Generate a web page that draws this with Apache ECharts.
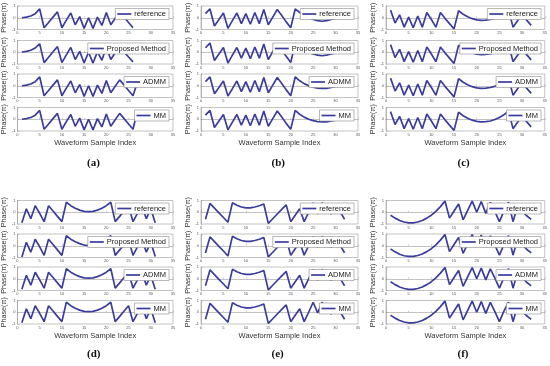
<!DOCTYPE html>
<html><head><meta charset="utf-8">
<script src="https://cdn.jsdelivr.net/npm/echarts@6/dist/echarts.min.js"></script>
<style>html,body{margin:0;padding:0;background:#fff}#c{width:550px;height:366px}</style>
</head><body><div id="c"></div>
<script>
// ---------- texts ----------
const methodNames = ['reference', 'Proposed Method', 'ADMM', 'MM'];
const panelLabels = ['(a)', '(b)', '(c)', '(d)', '(e)', '(f)'];
const xAxisTitle = 'Waveform Sample Index';
const yAxisTitle = 'Phase(\u03c0)';
const xTickMin = 0, xTickMax = 35, xTickStep = 5;
const yTickMin = -1, yTickMax = 1, yTickStep = 1;

// ---------- data (phase in units of pi, sample index starts at 1) ----------
const aRef  = [0.0, 0.05, 0.15, 0.35, 0.75, -0.85, -0.4, 0.05, 0.5, -0.85, -0.2, 0.4, -0.6, 0.1, -0.9, 0.0, -0.9, 0.05, -0.65, 0.45, -0.6, -0.05, 0.5, 0.05, -0.4, -0.85];
const aProp = [0.02, 0.07, 0.17, 0.37, 0.72, -0.88, -0.42, 0.04, 0.48, -0.88, -0.22, 0.4, -0.62, 0.08, -0.9, 0.0, -0.92, 0.03, -0.68, 0.45, -0.62, -0.05, 0.48, 0.03, -0.4, -0.82];
const aADMM = [0.0, 0.05, 0.15, 0.35, 0.75, -0.85, -0.4, 0.05, 0.5, -0.85, -0.2, 0.4, -0.6, 0.1, -0.9, 0.0, -0.9, 0.05, -0.65, 0.45, -0.6, -0.05, 0.5, 0.05, -0.4, -0.85, 0.3];
const aMM   = [0.0, 0.05, 0.15, 0.35, 0.75, -0.85, -0.4, 0.05, 0.5, -0.85, -0.2, 0.4, -0.6, 0.1, -0.9, 0.0, -0.9, 0.05, -0.65, 0.45, -0.6, -0.05, 0.5, 0.05, -0.4, -0.85, 0.75];

const bRef  = [0.35, 0.75, -0.7, -0.15, 0.4, -0.9, -0.25, 0.4, -0.5, 0.35, -0.55, 0.45, -0.5, 0.7, -0.6, 0.05, 0.7, 0.2, -0.35, -0.85, 0.75, 0.45, 0.2, 0.0, -0.15, -0.25, -0.3, -0.25, -0.15, -0.05];
const bProp = [0.38, 0.78, -0.7, -0.15, 0.4, -0.92, -0.25, 0.4, -0.5, 0.35, -0.55, 0.45, -0.5, 0.7, -0.62, 0.05, 0.7, 0.2, -0.35, -0.88, 0.75, 0.45, 0.2, 0.0, -0.15, -0.25, -0.3, -0.25, -0.15, -0.05];
const bADMM = [0.35, 0.75, -0.68, -0.15, 0.4, -0.88, -0.25, 0.4, -0.5, 0.35, -0.55, 0.45, -0.5, 0.7, -0.6, 0.05, 0.7, 0.2, -0.35, -0.85, 0.75, 0.42, 0.18, 0.0, -0.12, -0.2, -0.23, -0.22, -0.15, -0.08];
const bMM   = [0.35, 0.75, -0.7, -0.15, 0.4, -0.9, -0.25, 0.4, -0.5, 0.35, -0.55, 0.45, -0.5, 0.7, -0.6, 0.05, 0.7, 0.2, -0.35, -0.85, 0.75, 0.42, 0.18, 0.0, -0.12, -0.2, -0.23, -0.22, -0.15, -0.08];

const cRef  = [0.65, -0.45, 0.25, -0.8, 0.05, -0.85, 0.15, -0.8, 0.45, -0.15, -0.8, 0.45, -0.05, -0.5, -0.95, 0.6, 0.3, 0.08, -0.08, -0.18, -0.22, -0.2, -0.15, -0.05, 0.1, 0.35, 0.7, -0.8, -0.25, 0.25, -0.2, -0.65];
const cProp = [0.65, -0.45, 0.25, -0.8, 0.05, -0.85, 0.15, -0.8, 0.45, -0.15, -0.8, 0.45, -0.05, -0.5, -0.95, 0.6, 0.32, 0.1, -0.06, -0.16, -0.2, -0.18, -0.13, -0.03, 0.12, 0.35, 0.7, -0.8, -0.25, 0.25, -0.2, -0.65];
const cADMM = [0.65, -0.45, 0.25, -0.8, 0.05, -0.85, 0.15, -0.8, 0.45, -0.15, -0.8, 0.45, -0.05, -0.5, -0.95, 0.6, 0.3, 0.08, -0.08, -0.18, -0.22, -0.2, -0.15, -0.05, 0.1, 0.35, 0.7, -0.8, -0.25, 0.25, -0.2, -0.65];
const cMM   = [0.65, -0.45, 0.25, -0.8, 0.05, -0.85, 0.15, -0.8, 0.45, -0.15, -0.8, 0.45, -0.05, -0.5, -0.95, 0.6, 0.3, 0.08, -0.08, -0.18, -0.22, -0.2, -0.15, -0.02, 0.15, 0.38, 0.72, -0.8, -0.25, 0.25, -0.2, -0.65];

const dRef  = [-0.9, 0.3, -0.55, 0.55, -0.1, -0.8, 0.55, 0.1, -0.35, -0.8, 0.85, 0.56, 0.34, 0.18, 0.08, 0.05, 0.08, 0.18, 0.34, 0.56, 0.85, -0.8, -0.35, 0.1, 0.55, -0.8, -0.1, 0.55, -0.55, 0.3, -0.9];
const dProp = [-0.95, 0.3, -0.55, 0.55, -0.1, -0.82, 0.55, 0.1, -0.35, -0.82, 0.85, 0.56, 0.34, 0.18, 0.06, 0.03, 0.06, 0.18, 0.34, 0.56, 0.85, -0.82, -0.35, 0.1, 0.55, -0.82, -0.1, 0.55, -0.55, 0.3, -0.92];
const dADMM = [-0.9, 0.3, -0.55, 0.55, -0.1, -0.8, 0.55, 0.1, -0.35, -0.8, 0.85, 0.56, 0.34, 0.18, 0.08, 0.05, 0.08, 0.18, 0.34, 0.56, 0.85, -0.8, -0.35, 0.1, 0.55, -0.8, -0.1, 0.55, -0.55, 0.3, -0.9];
const dMM   = [-0.9, 0.3, -0.55, 0.55, -0.1, -0.8, 0.55, 0.1, -0.35, -0.8, 0.85, 0.56, 0.34, 0.18, 0.08, 0.05, 0.08, 0.18, 0.34, 0.56, 0.85, -0.8, -0.35, 0.1, 0.55, -0.8, -0.1, 0.55, -0.55, 0.3, -0.9];

const eRef  = [-0.6, 0.75, 0.35, -0.05, -0.45, -0.85, 0.8, 0.6, 0.45, 0.37, 0.37, 0.45, 0.55, 0.7, -0.95, -0.55, -0.15, 0.25, 0.62, -0.8, -0.25, 0.3, -0.8, 0.0, 0.8, -0.15, 0.8, 0.3, -0.15, 0.55, 0.05, -0.6];
const eProp = [-0.62, 0.75, 0.35, -0.05, -0.45, -0.87, 0.8, 0.6, 0.45, 0.37, 0.37, 0.45, 0.55, 0.7, -0.95, -0.55, -0.15, 0.25, 0.62, -0.82, -0.25, 0.3, -0.8, 0.0, 0.8, -0.15, 0.8, 0.3, -0.15, 0.55, 0.05, -0.6];
const eADMM = [-0.6, 0.75, 0.35, -0.05, -0.45, -0.85, 0.8, 0.6, 0.45, 0.37, 0.37, 0.45, 0.55, 0.7, -0.95, -0.55, -0.15, 0.25, 0.62, -0.8, -0.25, 0.3, -0.8, 0.0, 0.8, -0.15, 0.8, 0.3, -0.15, 0.55, 0.05, -0.6];
const eMM   = [-0.6, 0.75, 0.35, -0.05, -0.45, -0.85, 0.8, 0.6, 0.45, 0.37, 0.37, 0.45, 0.55, 0.7, -0.95, -0.55, -0.15, 0.25, 0.62, -0.8, -0.25, 0.3, -0.8, 0.0, 0.85, -0.05, 0.85, 0.3, -0.15, 0.55, 0.05, -0.6];

const fRef  = [-0.25, -0.5, -0.7, -0.83, -0.9, -0.9, -0.83, -0.7, -0.5, -0.25, 0.08, 0.48, 0.95, -0.5, 0.1, 0.7, -0.65, 0.15, 0.95, 0.0, 0.9, -0.1, 0.85, 0.05, -0.8, 0.1, 0.85, -0.8, 0.55, 0.1, -0.3, -0.6];
const fProp = [-0.28, -0.52, -0.72, -0.85, -0.9, -0.9, -0.83, -0.7, -0.5, -0.25, 0.08, 0.48, 0.95, -0.5, 0.1, 0.7, -0.65, 0.15, 0.95, 0.0, 0.9, -0.1, 0.85, 0.05, -0.8, 0.1, 0.85, -0.8, 0.55, 0.1, -0.3, -0.6];
const fADMM = [-0.25, -0.5, -0.7, -0.83, -0.9, -0.9, -0.83, -0.7, -0.5, -0.25, 0.08, 0.48, 0.95, -0.5, 0.1, 0.7, -0.65, 0.15, 0.95, 0.0, 0.9, -0.1, 0.85, 0.05, -0.8, 0.1, 0.85, -0.8, 0.55, 0.1, -0.3, -0.6];
const fMM   = [-0.25, -0.5, -0.7, -0.83, -0.9, -0.9, -0.83, -0.7, -0.5, -0.25, 0.08, 0.48, 0.95, -0.5, 0.1, 0.7, -0.65, 0.15, 0.95, 0.0, 0.9, -0.1, 0.85, 0.05, -0.8, 0.1, 0.85, -0.8, 0.55, 0.1, -0.3, -0.6];

const panels = [
  [aRef, aProp, aADMM, aMM],
  [bRef, bProp, bADMM, bMM],
  [cRef, cProp, cADMM, cMM],
  [dRef, dProp, dADMM, dMM],
  [eRef, eProp, eADMM, eMM],
  [fRef, fProp, fADMM, fMM]
];

// ---------- layout ----------
const W = 550;
const colLeft = [17, 201, 386];
const colRight = [173, 358, 545];
const rowTops = [[6, 40.5, 74, 107.5], [200.5, 234, 267, 300.5]];
const subH = 23.5;
const labelY = [165, 356];
const lineColor = '#3c3c9e';
const axisColor = '#9a9a9a';
const sansFont = 'Liberation Sans, Arial, sans-serif';

const grid = [], xAxis = [], yAxis = [], series = [], legend = [], graphic = [];
panels.forEach((methods, p) => {
  const col = p % 3, row = Math.floor(p / 3);
  methods.forEach((arr, s) => {
    const k = grid.length;
    const top = rowTops[row][s];
    grid.push({
      left: colLeft[col], top: top, width: colRight[col] - colLeft[col], height: subH,
      show: true, borderColor: axisColor, borderWidth: 0.6, backgroundColor: '#fff'
    });
    xAxis.push({
      gridIndex: k, type: 'value', min: xTickMin, max: xTickMax, interval: xTickStep,
      name: s === 3 ? xAxisTitle : '', nameLocation: 'middle', nameGap: 8,
      nameTextStyle: { fontSize: 7.5, color: '#333', fontFamily: sansFont },
      axisLine: { show: true, lineStyle: { color: axisColor, width: 0.6 } },
      axisTick: { show: true, inside: true, length: 1.5, lineStyle: { color: axisColor, width: 0.5 } },
      axisLabel: { fontSize: 4, margin: 1.5, color: '#555', fontFamily: sansFont },
      splitLine: { show: false }
    });
    yAxis.push({
      gridIndex: k, type: 'value', min: yTickMin, max: yTickMax, interval: yTickStep,
      name: yAxisTitle, nameLocation: 'middle', nameGap: 6, nameRotate: 90,
      nameTextStyle: { fontSize: 7.2, color: '#333', fontFamily: sansFont },
      axisLine: { show: true, lineStyle: { color: axisColor, width: 0.6 } },
      axisTick: { show: true, inside: true, length: 1.5, lineStyle: { color: axisColor, width: 0.5 } },
      axisLabel: { fontSize: 4, margin: 2, color: '#555', fontFamily: sansFont },
      splitLine: { show: false }
    });
    series.push({
      type: 'line', name: methodNames[s], xAxisIndex: k, yAxisIndex: k,
      data: arr.map((v, i) => [i + 1, v]),
      showSymbol: false, symbol: 'none', silent: true, animation: false,
      lineStyle: { color: lineColor, width: 1.7 }, itemStyle: { color: lineColor }
    });
    legend.push({
      data: [methodNames[s]], right: W - colRight[col] + 4, top: top + 2.5,
      icon: 'rect', itemWidth: 14, itemHeight: 1.7, itemGap: 0,
      padding: [1.5, 3, 1.5, 2], backgroundColor: '#fff', borderColor: '#8a8a8a', borderWidth: 0.6,
      selectedMode: false,
      textStyle: { fontSize: 7.5, color: '#1a1a1a', fontFamily: sansFont, padding: [0, 0, 0, -2] }
    });
  });
  graphic.push({
    type: 'text', left: (colLeft[col] + colRight[col]) / 2 - 8, top: labelY[row] - 7,
    style: { text: panelLabels[p], font: 'bold 11px "Liberation Serif", serif', fill: '#111' }
  });
});

const chart = echarts.init(document.getElementById('c'), null, { renderer: 'canvas' });
chart.setOption({
  animation: false, backgroundColor: '#fff',
  grid, xAxis, yAxis, series, legend, graphic
});
</script></body></html>
